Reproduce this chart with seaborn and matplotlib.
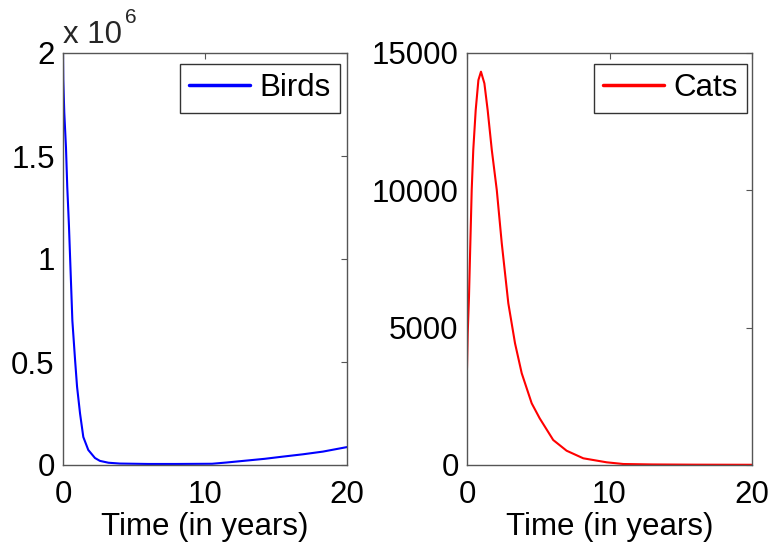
import matplotlib
matplotlib.use("Agg")
import matplotlib.pyplot as plt
import seaborn as sns
import pandas as pd

# ---- data ----
bird_t = [0, 0.02, 0.09, 0.21, 0.30, 0.42, 0.54, 0.66, 0.85, 0.99, 1.2, 1.43, 1.78,
          2.25, 2.6, 3.2, 4, 6, 8, 10.5, 11.5, 12.7, 14.2, 15.4, 16.9, 18.3, 20]
bird_v = [2.0, 1.87, 1.71, 1.54, 1.35, 1.16, 0.93, 0.70, 0.51, 0.38, 0.25, 0.136, 0.073,
          0.034, 0.02, 0.011, 0.007, 0.005, 0.005, 0.006, 0.012, 0.02, 0.03, 0.04, 0.052,
          0.065, 0.087]  # in millions

cat_t = [0, 0.05, 0.14, 0.21, 0.33, 0.44, 0.61, 0.8, 0.98, 1.22, 1.45, 1.74, 2.09, 2.44,
         2.9, 3.37, 3.84, 4.54, 5.1, 6.05, 6.99, 8.16, 9.8, 10.97, 13, 16, 20]
cat_v = [3520, 4800, 6130, 7580, 10010, 11470, 12920, 14015, 14320, 13895, 12920, 11470,
         10010, 8070, 5886, 4430, 3340, 2246, 1700, 910, 520, 244, 98, 36, 20, 12, 8]

x_ticks = [0, 10, 20]
bird_yticks = [0, 0.5e6, 1e6, 1.5e6, 2e6]
bird_yticklabels = ["0", "0.5", "1", "1.5", "2"]
cat_yticks = [0, 5000, 10000, 15000]
cat_yticklabels = ["0", "5000", "10000", "15000"]
xlabel = "Time (in years)"

sns.set_theme(style="white")
plt.rcParams["font.family"] = ["Liberation Sans", "DejaVu Sans"]

FS = 22.5
SPINE = "#555555"

fig = plt.figure(figsize=(7.72, 5.44), dpi=100)
W, H = 772, 544
axL = fig.add_axes([63 / W, (H - 465) / H, 284 / W, 412 / H])
axR = fig.add_axes([467 / W, (H - 465) / H, 285 / W, 412 / H])

birds = pd.DataFrame({"t": bird_t, "v": [v * 1e6 for v in bird_v]})
cats = pd.DataFrame({"t": cat_t, "v": cat_v})

sns.lineplot(data=birds, x="t", y="v", ax=axL, color="#0000ff", lw=1.5, label="Birds")
sns.lineplot(data=cats, x="t", y="v", ax=axR, color="#ff0000", lw=1.5, label="Cats")

for ax, yt, ytl, ylim in [(axL, bird_yticks, bird_yticklabels, (0, 2e6)),
                          (axR, cat_yticks, cat_yticklabels, (0, 15000))]:
    ax.set_xlim(0, 20)
    ax.set_ylim(*ylim)
    ax.set_xticks(x_ticks)
    ax.set_xticklabels([str(x) for x in x_ticks])
    ax.set_yticks(yt)
    ax.set_yticklabels(ytl)
    ax.set_xlabel(xlabel, fontsize=FS, labelpad=1, color="black")
    ax.set_ylabel("")
    ax.tick_params(axis="both", which="major", direction="in", length=4, width=0.8,
                   color=SPINE, labelsize=FS, top=True, right=True, labelcolor="black")
    ax.tick_params(axis="x", pad=11)
    ax.tick_params(axis="y", pad=6)
    for s in ax.spines.values():
        s.set_color(SPINE)
        s.set_linewidth(1.0)
        s.set_visible(True)

legL = axL.legend(loc="upper right", bbox_to_anchor=((340 - 63) / 284, (465 - 64) / 412),
                  borderaxespad=0, fontsize=FS, frameon=True, fancybox=False,
                  handlelength=1.95, handletextpad=0.3, borderpad=0.3)
legR = axR.legend(loc="upper right", bbox_to_anchor=((747 - 467) / 285, (465 - 64) / 412),
                  borderaxespad=0, fontsize=FS, frameon=True, fancybox=False,
                  handlelength=1.95, handletextpad=0.3, borderpad=0.3)
for leg in (legL, legR):
    fr = leg.get_frame()
    fr.set_edgecolor("#333333")
    fr.set_linewidth(1.0)
    fr.set_alpha(1)
    for h in leg.get_lines():
        h.set_linewidth(2.5)
    for t in leg.get_texts():
        t.set_color("black")

# multiplier label
fig.text(63 / W, 1 - 43 / H, "x 10", fontsize=FS, ha="left", va="baseline")
fig.text(125 / W, 1 - 23 / H, "6", fontsize=15, ha="left", va="baseline")

fig.savefig("out.png", dpi=100)
